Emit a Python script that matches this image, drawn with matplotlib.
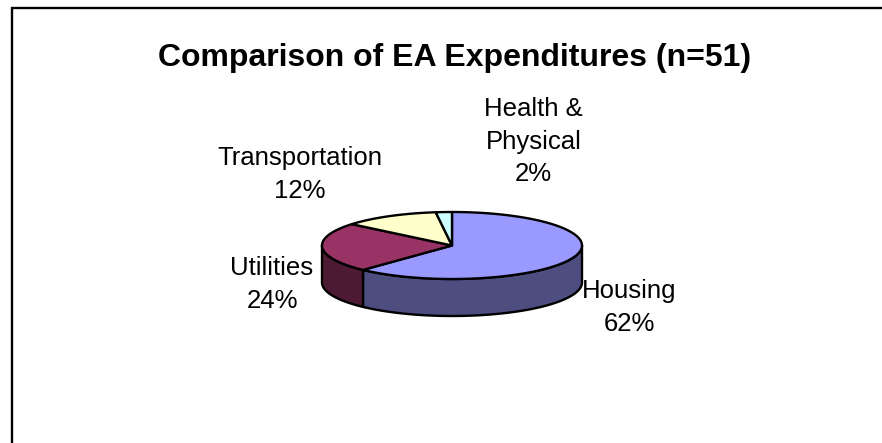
import numpy as np
import matplotlib
matplotlib.use("Agg")
import matplotlib.pyplot as plt
from matplotlib.patches import Polygon

plt.rcParams['font.family'] = ['Liberation Sans', 'DejaVu Sans']

# Chart data
categories = ["Housing", "Utilities", "Transportation", "Health &\nPhysical"]
percents = [62, 24, 12, 2]
top_colors = ["#9999FF", "#993366", "#FFFFCC", "#CCFFFF"]
side_colors = ["#4D4D80", "#4D1A33", "#80805F", "#668080"]
label_pos = [(629, 307.5), (272, 284.5), (300, 174.5), (533.5, 141.5)]

W, H = 882, 443
cx, cy = 452, 245.5
rx, ry = 130, 33.5
depth = 37

fig = plt.figure(figsize=(W / 100, H / 100), dpi=100)
ax = fig.add_axes([0, 0, 1, 1])
ax.set_xlim(0, W)
ax.set_ylim(H, 0)
ax.axis("off")


def arc(a0, a1, dy=0):
    # angles in degrees, y axis points down so the sign flips
    t = np.radians(np.linspace(a0, a1, 120))
    return np.column_stack([cx + rx * np.cos(t), cy - ry * np.sin(t) + dy])


# Frame: only the left and top edges show in the crop
ax.plot([12, 12, W], [H, 8, 8], color="black", lw=1.7,
        solid_joinstyle="miter", clip_on=False)

ax.text(455, 58, "Comparison of EA Expenditures (n=51)", ha="center", va="center",
        fontsize=23, fontweight="bold", color="black")

# Slices run clockwise from twelve o'clock
edges = 90 - np.cumsum([0] + percents) * 3.6

# Rim first, only the part facing the viewer
for i in range(len(percents)):
    a0, a1 = edges[i], edges[i + 1]
    lo = max(a1, -180)
    hi = min(a0, 0)
    if lo < hi:
        front = arc(hi, lo)
        back = arc(lo, hi, depth)
        ax.add_patch(Polygon(np.vstack([front, back]), closed=True, fc=side_colors[i],
                             ec="black", lw=1.7, joinstyle="round"))

# Top face
for i in range(len(percents)):
    pts = np.vstack([[cx, cy], arc(edges[i], edges[i + 1])])
    ax.add_patch(Polygon(pts, closed=True, fc=top_colors[i], ec="black", lw=1.7,
                         joinstyle="round"))

# Labels
for name, pct, (x, y) in zip(categories, percents, label_pos):
    ax.text(x, y, f"{name}\n{pct}%", ha="center", va="center", fontsize=18.5,
            color="black", linespacing=1.44)

fig.savefig("out.png", dpi=100)
